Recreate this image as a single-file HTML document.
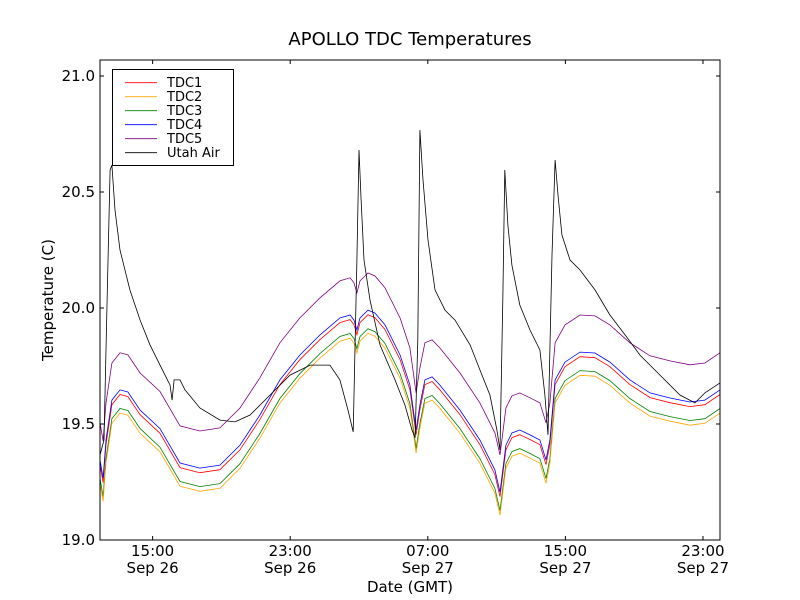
<!DOCTYPE html>
<html><head><meta charset="utf-8"><style>
body{margin:0;background:#fff;}
svg{display:block;font-family:"DejaVu Sans","Liberation Sans",sans-serif;}
</style></head><body>
<svg id="chart" width="800" height="600">
<rect width="800" height="600" fill="#fff"/>
<text x="410" y="45" font-size="18" text-anchor="middle">APOLLO TDC Temperatures</text>
<defs><clipPath id="clip"><rect x="100" y="60" width="620" height="480"/></clipPath></defs>
<g id="series" clip-path="url(#clip)"></g>
<rect x="100" y="60" width="620" height="480" fill="none" stroke="#000" stroke-width="1"/>
<g id="axes"></g>
<text x="410" y="592" font-size="15" text-anchor="middle">Date (GMT)</text>
<text x="53" y="300" font-size="15" text-anchor="middle" transform="rotate(-90 53 300)">Temperature (C)</text>
<g id="legend"></g>
</svg>
<script>
const times=[11.94,12.12,12.29,12.63,13.10,13.56,14.27,15.43,16.59,17.75,18.91,20.08,21.24,22.40,23.56,24.73,25.89,26.48,26.71,26.88,27.06,27.52,27.93,28.51,29.39,29.96,30.32,30.54,30.83,31.25,31.70,32.87,34.03,34.90,35.20,35.36,35.54,35.89,36.35,36.94,37.52,37.87,38.10,38.40,38.98,39.85,40.72,41.59,42.75,43.92,45.08,46.24,47.11,47.99];
const tdc1=[19.325,19.247,19.411,19.583,19.627,19.618,19.540,19.460,19.312,19.290,19.303,19.389,19.519,19.670,19.777,19.864,19.937,19.950,19.928,19.885,19.937,19.971,19.958,19.907,19.777,19.648,19.454,19.562,19.670,19.683,19.648,19.540,19.411,19.282,19.187,19.282,19.389,19.441,19.454,19.433,19.411,19.325,19.411,19.670,19.747,19.790,19.786,19.747,19.670,19.614,19.592,19.575,19.583,19.627];
const tdc2=[19.245,19.167,19.331,19.503,19.547,19.538,19.460,19.380,19.232,19.210,19.223,19.309,19.439,19.590,19.697,19.784,19.857,19.870,19.848,19.805,19.857,19.891,19.878,19.827,19.697,19.568,19.374,19.482,19.590,19.603,19.568,19.460,19.331,19.202,19.107,19.202,19.309,19.361,19.374,19.353,19.331,19.245,19.331,19.590,19.667,19.710,19.706,19.667,19.590,19.534,19.512,19.495,19.503,19.547];
const tdc3=[19.265,19.187,19.351,19.523,19.567,19.558,19.480,19.400,19.252,19.230,19.243,19.329,19.459,19.610,19.717,19.804,19.877,19.890,19.868,19.825,19.877,19.911,19.898,19.847,19.717,19.588,19.394,19.502,19.610,19.623,19.588,19.480,19.351,19.222,19.127,19.222,19.329,19.381,19.394,19.373,19.351,19.265,19.351,19.610,19.687,19.730,19.726,19.687,19.610,19.554,19.532,19.515,19.523,19.567];
const tdc4=[19.345,19.267,19.431,19.603,19.647,19.638,19.560,19.480,19.332,19.310,19.323,19.409,19.539,19.690,19.797,19.884,19.957,19.970,19.948,19.905,19.957,19.991,19.978,19.927,19.797,19.668,19.474,19.582,19.690,19.703,19.668,19.560,19.431,19.302,19.207,19.302,19.409,19.461,19.474,19.453,19.431,19.345,19.431,19.690,19.767,19.810,19.806,19.767,19.690,19.634,19.612,19.595,19.603,19.647];
const tdc5=[19.505,19.427,19.591,19.763,19.807,19.798,19.720,19.640,19.492,19.470,19.483,19.569,19.699,19.850,19.957,20.044,20.117,20.130,20.108,20.065,20.117,20.151,20.138,20.087,19.957,19.828,19.634,19.742,19.850,19.863,19.828,19.720,19.591,19.462,19.367,19.462,19.569,19.621,19.634,19.613,19.591,19.505,19.591,19.850,19.927,19.970,19.966,19.927,19.850,19.794,19.772,19.755,19.763,19.807];
const airTimes=[11.94,12.17,12.35,12.53,12.63,12.81,13.10,13.68,14.27,14.85,15.43,16.01,16.13,16.25,16.59,16.88,17.75,18.92,19.79,20.67,21.83,22.99,24.16,25.31,25.89,26.36,26.66,26.88,27.00,27.12,27.29,27.64,28.22,29.09,29.67,30.08,30.26,30.42,30.54,30.72,31.01,31.42,32.00,32.58,33.46,34.03,34.61,35.02,35.20,35.36,35.48,35.66,35.89,36.35,36.94,37.52,37.81,37.99,38.22,38.40,38.57,38.80,39.27,39.85,40.72,41.59,42.47,43.34,44.50,45.66,46.53,47.11,47.99];
const airTemps=[19.366,19.431,20.034,20.595,20.616,20.422,20.250,20.078,19.948,19.841,19.754,19.668,19.603,19.690,19.690,19.647,19.569,19.517,19.509,19.539,19.625,19.711,19.754,19.754,19.690,19.560,19.466,20.207,20.681,20.466,20.207,20.034,19.841,19.690,19.582,19.474,19.440,19.862,20.767,20.552,20.293,20.078,19.991,19.948,19.841,19.733,19.625,19.474,19.388,20.034,20.595,20.357,20.185,20.013,19.905,19.819,19.625,19.453,20.228,20.638,20.487,20.315,20.207,20.164,20.078,19.970,19.884,19.797,19.711,19.625,19.591,19.634,19.677];
const yTicks=[19.0,19.5,20.0,20.5,21.0];
const yTickLabels=["19.0","19.5","20.0","20.5","21.0"];
const xTicks=[15,23,31,39,47];
const xTickTimes=["15:00","23:00","07:00","15:00","23:00"];
const xTickDates=["Sep 26","Sep 26","Sep 27","Sep 27","Sep 27"];
const seriesNames=["TDC1","TDC2","TDC3","TDC4","TDC5","Utah Air"];
const NS="http://www.w3.org/2000/svg";
const X0=11.94,X1=47.99,Y0=19.0,Y1=21.069;
function sx(h){return 100+(h-X0)/(X1-X0)*620;}
function sy(v){return 540-(v-Y0)/(Y1-Y0)*480;}
function mk(tag,attrs,parent){const e=document.createElementNS(NS,tag);for(const k in attrs)e.setAttribute(k,attrs[k]);parent.appendChild(e);return e;}
const sg=document.getElementById('series');
const colors=["#ff0000","#ffa500","#008000","#0000ff","#800080","#000000"];
const data=[[times,tdc1],[times,tdc2],[times,tdc3],[times,tdc4],[times,tdc5],[airTimes,airTemps]];
const order=[2,1,0,4,3,5];
order.forEach(i=>{
  const [t,v]=data[i];
  const d=t.map((h,j)=>(j?'L':'M')+sx(h).toFixed(1)+' '+sy(v[j]).toFixed(1)).join(' ');
  const p=mk('path',{d:d,fill:'none',stroke:colors[i],'stroke-width':0.8},sg);
  
  
});
const ax=document.getElementById('axes');
yTicks.forEach((v,i)=>{
  const y=sy(v);
  mk('line',{x1:100,x2:104,y1:y,y2:y,stroke:'#000'},ax);
  mk('line',{x1:716,x2:720,y1:y,y2:y,stroke:'#000'},ax);
  const t=mk('text',{x:95,y:y+5,'font-size':15,'text-anchor':'end'},ax);
  t.textContent=yTickLabels[i];
  
  
});
xTicks.forEach((h,i)=>{
  const x=sx(h);
  mk('line',{x1:x,x2:x,y1:540,y2:536,stroke:'#000'},ax);
  mk('line',{x1:x,x2:x,y1:60,y2:64,stroke:'#000'},ax);
  const t=mk('text',{x:x,y:556,'font-size':15,'text-anchor':'middle'},ax);
  t.textContent=xTickTimes[i];
  
  
  const t2=mk('text',{x:x,y:573,'font-size':15,'text-anchor':'middle'},ax);
  t2.textContent=xTickDates[i];
  
  
});
const lg=document.getElementById('legend');
mk('rect',{x:112.5,y:69.5,width:121,height:96,fill:'#fff',stroke:'#000'},lg);
seriesNames.forEach((n,i)=>{
  const y=82.7+i*14;
  mk('line',{x1:125,x2:157,y1:y,y2:y,stroke:colors[i],'stroke-width':0.8},lg);
  const t=mk('text',{x:167,y:y+4.5,'font-size':13},lg);
  t.textContent=n;
  
  
});
</script>
</body></html>
